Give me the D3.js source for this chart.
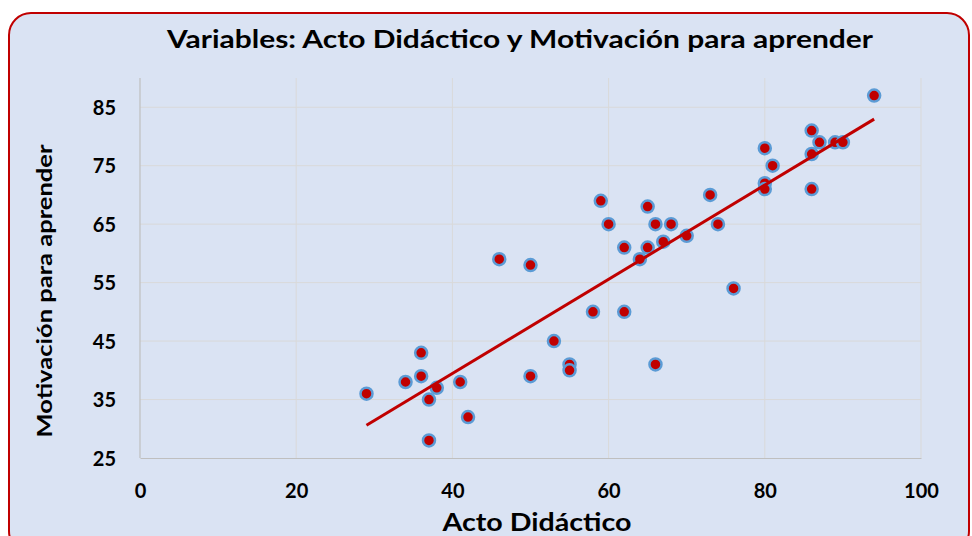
<!DOCTYPE html>
<html><head><meta charset="utf-8">
<script src="https://cdn.jsdelivr.net/npm/d3@7"></script>
<style>body{margin:0;background:#fff;}svg{display:block;}</style>
</head><body>
<svg id="c" width="972" height="536"></svg>
<script>
const chartTitle = "Variables: Acto Didáctico y Motivación para aprender";
const xTitle = "Acto Didáctico";
const yTitle = "Motivación para aprender";
const xTicks = [0, 20, 40, 60, 80, 100];
const yTicks = [25, 35, 45, 55, 65, 75, 85];
const actoDidactico = [29,34,36,36,37,38,37,41,42,46,50,50,53,55,55,58,59,60,62,62,64,65,65,66,66,67,68,70,73,74,76,80,80,80,81,86,86,86,87,89,90,94];
const motivacion    = [36,38,43,39,35,37,28,38,32,59,58,39,45,41,40,50,69,65,61,50,59,68,61,65,41,62,65,63,70,65,54,78,72,71,75,81,77,71,79,79,79,87];

const svg = d3.select("#c");
const W = 972, H = 536;
const m = {left:140, right:W-921, top:78, bottom:H-458};

svg.append("rect").attr("x",9).attr("y",13).attr("width",960).attr("height",540)
  .attr("rx",22).attr("fill","#dae3f3").attr("stroke","#c00000").attr("stroke-width",2);

const x = d3.scaleLinear().domain([0,100]).range([m.left, W-m.right]);
const y = d3.scaleLinear().domain([25,90]).range([H-m.bottom, m.top]);

const g = svg.append("g");
g.selectAll(".hg").data(yTicks.slice(1)).join("line")
  .attr("x1",x(0)).attr("x2",x(100)).attr("y1",d=>y(d)).attr("y2",d=>y(d))
  .attr("stroke","#d9d9d9").attr("stroke-width",1);
g.selectAll(".vg").data(xTicks.slice(1)).join("line")
  .attr("y1",y(25)).attr("y2",y(90)).attr("x1",d=>x(d)).attr("x2",d=>x(d))
  .attr("stroke","#d9d9d9").attr("stroke-width",1);

const ff = "Lato, 'Open Sans', sans-serif";
const xa = svg.append("g").attr("transform",`translate(0,${y(25)})`)
  .call(d3.axisBottom(x).tickValues(xTicks).tickSize(0).tickPadding(26));
const ya = svg.append("g").attr("transform",`translate(${x(0)},0)`)
  .call(d3.axisLeft(y).tickValues(yTicks).tickSize(0).tickPadding(24));
[xa, ya].forEach(a=>{
  a.select(".domain").attr("stroke","#bfbfbf").attr("stroke-width",1.2);
  a.selectAll("text").attr("font-family",ff)
    .attr("font-weight","bold").attr("font-size",20).attr("fill","#000");
});
ya.select(".domain").attr("d",`M0,${y(25)}V${y(90)}`);
ya.selectAll("text").attr("dy","0.36em");

// trend line (least squares)
const n = actoDidactico.length;
const mx = d3.mean(actoDidactico), my = d3.mean(motivacion);
let sxy=0, sxx=0;
for(let i=0;i<n;i++){sxy+=(actoDidactico[i]-mx)*(motivacion[i]-my); sxx+=(actoDidactico[i]-mx)**2;}
const b = sxy/sxx, a0 = my - b*mx;
const x0 = d3.min(actoDidactico), x1 = d3.max(actoDidactico);

const pts = actoDidactico.map((v,i)=>({x:v,y:motivacion[i]}));
svg.append("g").selectAll("circle").data(pts).join("circle")
  .attr("cx",d=>x(d.x)).attr("cy",d=>y(d.y)).attr("r",6)
  .attr("fill","#c00000").attr("stroke","#5b9bd5").attr("stroke-width",2.5);

svg.append("line").attr("x1",x(x0)).attr("y1",y(a0+b*x0)).attr("x2",x(x1)).attr("y2",y(a0+b*x1))
  .attr("stroke","#c00000").attr("stroke-width",3);

svg.append("text").attr("x",520).attr("y",48).attr("text-anchor","middle")
  .attr("font-family",ff).attr("font-weight","bold").attr("font-size",25)
  .attr("textLength",706).attr("lengthAdjust","spacingAndGlyphs").text(chartTitle);
svg.append("text").attr("x",537).attr("y",531).attr("text-anchor","middle")
  .attr("font-family",ff).attr("font-weight","bold").attr("font-size",25)
  .attr("textLength",189).attr("lengthAdjust","spacingAndGlyphs").text(xTitle);
svg.append("text").attr("transform","translate(52,291) rotate(-90)").attr("text-anchor","middle")
  .attr("font-family",ff).attr("font-weight","bold").attr("font-size",21)
  .attr("textLength",293).attr("lengthAdjust","spacingAndGlyphs").text(yTitle);
</script>
</body></html>
